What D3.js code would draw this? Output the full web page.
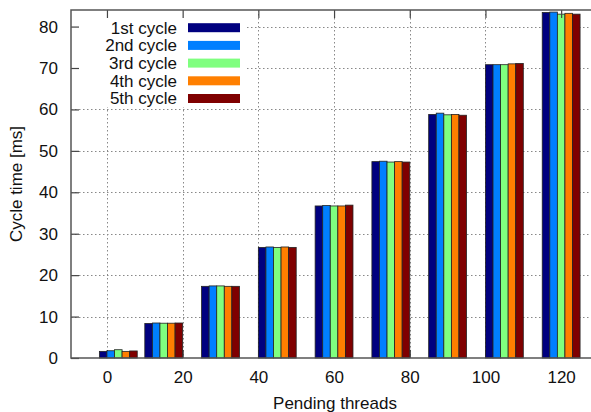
<!DOCTYPE html>
<html>
<head>
<meta charset="utf-8">
<script src="https://cdn.jsdelivr.net/npm/d3@7"></script>
<style>
  body { margin: 0; background: #fff; }
  text { font-family: "Liberation Sans", Arial, sans-serif; fill: #111; }
</style>
</head>
<body>
<div id="chart"></div>
<script>
// Values
var threads = [3, 15, 30, 45, 60, 75, 90, 105, 120];
var cycles = ["1st cycle", "2nd cycle", "3rd cycle", "4th cycle", "5th cycle"];
var cycle1 = [1.6, 8.35, 17.3, 26.7, 36.7, 47.4, 58.8, 70.8, 83.4];
var cycle2 = [1.75, 8.45, 17.4, 26.8, 36.8, 47.5, 59.1, 70.8, 83.5];
var cycle3 = [2.0, 8.4, 17.4, 26.7, 36.7, 47.3, 58.7, 70.8, 83.0];
var cycle4 = [1.6, 8.4, 17.3, 26.8, 36.7, 47.4, 58.8, 71.0, 83.2];
var cycle5 = [1.7, 8.45, 17.3, 26.7, 36.9, 47.3, 58.6, 71.1, 83.0];
var colors = ["#00007f", "#007fff", "#7fff7f", "#ff7f00", "#7f0000"];
var xTicks = [0, 20, 40, 60, 80, 100, 120];
var yTicks = [0, 10, 20, 30, 40, 50, 60, 70, 80];

var series = [cycle1, cycle2, cycle3, cycle4, cycle5];
var barW = 2; // in x-axis units
var fontSize = "17px";

var width = 591, height = 412;
var pl = 71, pr = 599, pt = 10, pb = 358;

var svg = d3.select("#chart").append("svg")
    .attr("width", width)
    .attr("height", height);

var x = d3.scaleLinear().domain([-9.5, 130]).range([pl, pr]);
var y = d3.scaleLinear().domain([0, 84]).range([pb, pt]);

// Grid (dotted)
var grid = svg.append("g").attr("class", "grid")
    .attr("stroke", "#888")
    .attr("stroke-width", 1)
    .attr("stroke-dasharray", "1.5,2.5");
grid.selectAll(".gx")
    .data(xTicks)
    .enter().append("line")
    .attr("x1", d => Math.round(x(d)) + 0.5)
    .attr("x2", d => Math.round(x(d)) + 0.5)
    .attr("y1", pt).attr("y2", pb);
grid.selectAll(".gy")
    .data(yTicks.filter(d => d > 0))
    .enter().append("line")
    .attr("y1", d => Math.round(y(d)) + 0.5)
    .attr("y2", d => Math.round(y(d)) + 0.5)
    .attr("x1", pl).attr("x2", pr);

// Legend background hides the grid behind it
svg.append("rect")
    .attr("x", pl).attr("y", pt)
    .attr("width", 176).attr("height", 97)
    .attr("fill", "#fff");

// Bottom axis sits behind the bars
var xAxis = svg.append("g")
    .attr("transform", `translate(0,${pb})`)
    .call(d3.axisBottom(x).tickValues(xTicks).tickSizeInner(-8).tickSizeOuter(0).tickPadding(13));

// Bars
var flat = [];
series.forEach(function (s, i) {
    s.forEach(function (v, j) {
        flat.push({ s: i, x: threads[j] + (i - 2) * barW, v: v });
    });
});
svg.append("g").selectAll(".bar")
    .data(flat)
    .enter().append("rect")
    .attr("class", "bar")
    .attr("x", d => x(d.x - barW / 2))
    .attr("width", d => x(d.x + barW / 2) - x(d.x - barW / 2))
    .attr("y", d => y(d.v))
    .attr("height", d => y(0) - y(d.v))
    .attr("fill", d => colors[d.s])
    .attr("stroke", "#222")
    .attr("stroke-width", 0.8);

// Left and top axes with inward ticks
var yAxis = svg.append("g")
    .attr("transform", `translate(${pl},0)`)
    .call(d3.axisLeft(y).tickValues(yTicks).tickSizeInner(-8).tickSizeOuter(0).tickPadding(13));
var topAxis = svg.append("g")
    .attr("transform", `translate(0,${pt})`)
    .call(d3.axisTop(x).tickValues(xTicks).tickSizeInner(-8).tickSizeOuter(0).tickFormat(""));

[yAxis, xAxis, topAxis].forEach(function (a) {
    a.select(".domain").remove();
    a.selectAll(".tick line").attr("stroke", "#444").attr("stroke-width", 1.2);
    a.selectAll("text")
        .style("font-family", "'Liberation Sans', Arial, sans-serif")
        .style("font-size", fontSize)
        .attr("fill", "#111");
});

// Plot border
svg.append("rect")
    .attr("x", pl).attr("y", pt)
    .attr("width", pr - pl).attr("height", pb - pt)
    .attr("fill", "none")
    .attr("stroke", "#555")
    .attr("stroke-width", 1.5);

// Legend
var leg = svg.append("g").selectAll(".leg")
    .data(cycles)
    .enter().append("g")
    .attr("transform", (d, i) => `translate(0,${27.7 + i * 17.7})`);
leg.append("rect")
    .attr("x", 188).attr("y", -4.5)
    .attr("width", 52).attr("height", 9)
    .attr("fill", (d, i) => colors[i]);
leg.append("text")
    .attr("x", 177).attr("y", 0)
    .attr("dy", "0.35em")
    .attr("text-anchor", "end")
    .style("font-size", fontSize)
    .text(d => d);

// Axis titles
svg.append("text")
    .attr("x", (pl + pr) / 2).attr("y", 409)
    .attr("text-anchor", "middle")
    .style("font-size", fontSize)
    .text("Pending threads");
svg.append("text")
    .attr("transform", `translate(22,${(pt + pb) / 2}) rotate(-90)`)
    .attr("text-anchor", "middle")
    .style("font-size", fontSize)
    .text("Cycle time [ms]");
</script>
</body>
</html>
